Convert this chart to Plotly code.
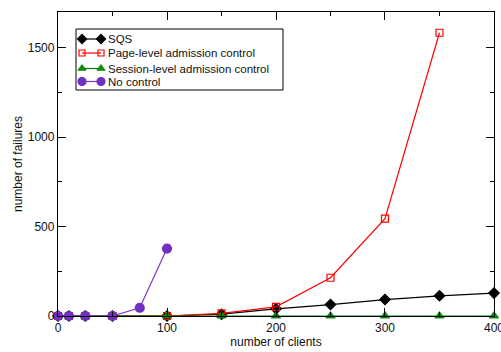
import plotly.graph_objects as go

sqs_x = [0, 10, 25, 50, 100, 150, 200, 250, 300, 350, 400]
sqs_y = [0, 0, 0, 0, 0, 10, 40, 64, 92, 113, 128]

page_x = [0, 10, 25, 50, 100, 150, 200, 250, 300, 350]
page_y = [0, 0, 0, 0, 0, 15, 51, 214, 544, 1584]

sess_x = [0, 10, 25, 50, 100, 150, 200, 250, 300, 350, 400]
sess_y = [0, 0, 0, 0, 0, 0, 0, 0, 0, 0, 0]

noc_x = [0, 10, 25, 50, 75, 100]
noc_y = [0, 0, 0, 0, 46, 377]

x_ticks = [0, 100, 200, 300, 400]
y_ticks = [0, 500, 1000, 1500]

FONT = "Liberation Sans, Arial, Helvetica, sans-serif"

series = [
    dict(name="SQS", x=sqs_x, y=sqs_y, color="black", mcolor="black",
         symbol="diamond", size=8),
    dict(name="Page-level admission control", x=page_x, y=page_y, color="#ff0000",
         mcolor="#ff0000", symbol="square-open", size=7),
    dict(name="Session-level admission control", x=sess_x, y=sess_y, color="#008000",
         mcolor="#108a10", symbol="triangle-up", size=8),
    dict(name="No control", x=noc_x, y=noc_y, color="#7b35c8", mcolor="#7030c0",
         symbol="circle", size=9),
]

fig = go.Figure()
for s in series:
    fig.add_trace(go.Scatter(x=s["x"], y=s["y"], mode="lines+markers", name=s["name"],
                             line=dict(color=s["color"], width=1.2),
                             marker=dict(symbol=s["symbol"], size=s["size"], color=s["mcolor"],
                                         line=dict(width=1.2, color=s["mcolor"])),
                             cliponaxis=False, showlegend=False))

# Legend drawn on an overlay axis laid out in pixel units (legend geometry only)
leg_box = (76, 29, 283, 90)
leg_rows = [39, 53, 68.5, 81.5]
leg_x0, leg_x1, leg_tx = 82, 101, 106
fig.add_shape(type="rect", xref="x2", yref="y2", x0=leg_box[0], y0=leg_box[1],
              x1=leg_box[2], y1=leg_box[3], line=dict(color="black", width=1),
              fillcolor="white", layer="below")
for s, ry in zip(series, leg_rows):
    fig.add_trace(go.Scatter(x=[leg_x0, leg_x1], y=[ry, ry], xaxis="x2", yaxis="y2",
                             mode="lines+markers", showlegend=False, hoverinfo="skip",
                             line=dict(color=s["color"], width=1.2),
                             marker=dict(symbol=s["symbol"], size=s["size"] - 1, color=s["mcolor"],
                                         line=dict(width=1.2, color=s["mcolor"])),
                             cliponaxis=False))
    fig.add_annotation(xref="x2", yref="y2", x=leg_tx, y=ry, text=s["name"], showarrow=False,
                       xanchor="left", yanchor="middle",
                       font=dict(family=FONT, size=11.5, color="#111"))

axis_common = dict(showline=True, linecolor="black", linewidth=1.3, mirror="allticks",
                   ticks="inside", ticklen=8, tickwidth=1, tickcolor="black",
                   showgrid=False, zeroline=False, ticklabeloverflow="allow",
                   tickfont=dict(family=FONT, size=12, color="#111"))

fig.update_layout(
    xaxis=dict(range=[-0.01, 400.01], tickmode="array", tickvals=x_ticks, automargin=False,
               minor=dict(dtick=50, tick0=0, ticks="inside", ticklen=4, tickcolor="black"),
               title=dict(text="number of clients", font=dict(family=FONT, size=12, color="#111"), standoff=0),
               **axis_common),
    yaxis=dict(range=[0, 1700], tickmode="array", tickvals=y_ticks,
               minor=dict(dtick=250, tick0=0, ticks="inside", ticklen=4, tickcolor="black"),
               title=dict(text="number of failures", font=dict(family=FONT, size=12, color="#111"), standoff=2),
               **axis_common),
    xaxis2=dict(overlaying="x", range=[58, 494], visible=False, fixedrange=True),
    yaxis2=dict(overlaying="y", range=[316, 12], visible=False, fixedrange=True),
    width=501, height=352,
    margin=dict(l=58, r=7, t=12, b=36),
    paper_bgcolor="white", plot_bgcolor="white",
    showlegend=False,
    font=dict(family=FONT),
)

fig.write_html("out.html", config={"displayModeBar": False},
               post_script="document.body.style.margin='0';document.body.style.overflow='hidden';")
